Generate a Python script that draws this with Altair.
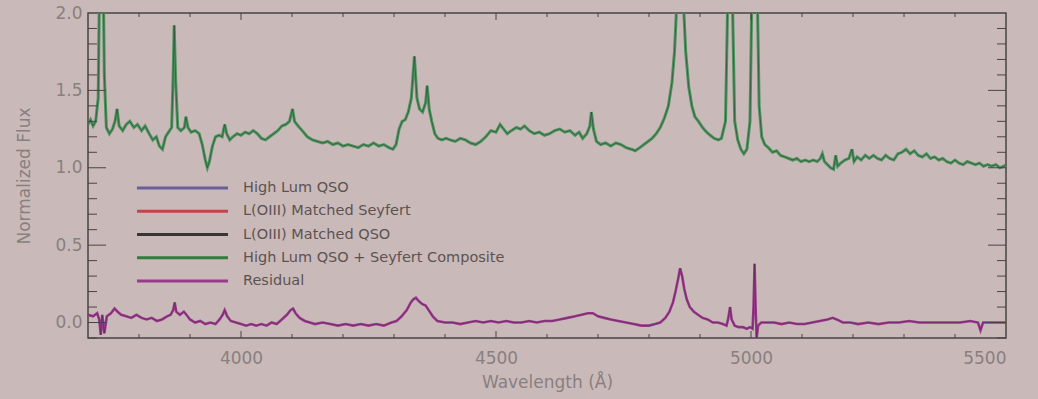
import altair as alt
import pandas as pd

# Composite spectrum (normalized flux) vs rest wavelength in Angstrom
comp_wave = [3700, 3705, 3710, 3715, 3720, 3724, 3728, 3732, 3736, 3742, 3748, 3753, 3757, 3761, 3768,
             3775, 3782, 3790, 3797, 3805, 3812, 3820, 3827, 3834, 3840, 3846, 3852, 3858, 3864, 3867,
             3869, 3872, 3876, 3882, 3889, 3892, 3896, 3902, 3910, 3918, 3924, 3930, 3934, 3938, 3944,
             3950, 3957, 3963, 3968, 3972, 3978, 3984, 3992, 4000, 4008, 4016, 4024, 4032, 4040, 4048,
             4056, 4064, 4072, 4080, 4088, 4095, 4101, 4105, 4112, 4120, 4130, 4140, 4150, 4160, 4170,
             4180, 4190, 4200, 4210, 4220, 4230, 4240, 4250, 4260, 4270, 4280, 4290, 4298, 4304, 4310,
             4316, 4322, 4328, 4334, 4340, 4345, 4350, 4356, 4362, 4365, 4369, 4374, 4380, 4386, 4394,
             4402, 4410, 4420, 4430, 4440, 4450, 4460, 4470, 4480, 4490, 4500, 4508, 4515, 4522, 4530,
             4540, 4548, 4556, 4565, 4575, 4585, 4595, 4605, 4615, 4625, 4635, 4645, 4655, 4663, 4670,
             4678, 4684, 4687, 4691, 4697, 4705, 4715, 4725, 4735, 4745, 4755, 4765, 4773, 4782, 4790,
             4798, 4806, 4814, 4822, 4830, 4838, 4845, 4850, 4855, 4861, 4867, 4872, 4878, 4884, 4890,
             4897, 4905, 4913, 4920, 4928, 4936, 4942, 4950, 4955, 4959, 4963, 4968, 4974, 4980, 4986,
             4992, 4998, 5003, 5007, 5011, 5016, 5021, 5027, 5034, 5042, 5050, 5058, 5066, 5074, 5082,
             5090, 5098, 5106, 5114, 5122, 5130, 5136, 5140, 5144, 5150, 5156, 5162, 5166, 5170, 5176,
             5184, 5192, 5198, 5202, 5208, 5216, 5224, 5232, 5240, 5248, 5256, 5264, 5272, 5280, 5288,
             5296, 5304, 5312, 5320, 5328, 5336, 5344, 5352, 5360, 5368, 5376, 5384, 5392, 5400, 5408,
             5416, 5424, 5432, 5440, 5448, 5456, 5464, 5472, 5480, 5488, 5496, 5500]
comp_flux = [1.28, 1.31, 1.27, 1.30, 1.45, 2.60, 2.80, 1.60, 1.26, 1.22, 1.25, 1.30, 1.38, 1.27, 1.24,
             1.28, 1.30, 1.26, 1.28, 1.24, 1.27, 1.22, 1.18, 1.20, 1.14, 1.12, 1.20, 1.23, 1.26, 1.60,
             1.92, 1.55, 1.26, 1.24, 1.26, 1.33, 1.26, 1.23, 1.24, 1.22, 1.15, 1.05, 1.00, 1.04, 1.14,
             1.20, 1.21, 1.20, 1.28, 1.22, 1.18, 1.20, 1.22, 1.21, 1.23, 1.22, 1.24, 1.22, 1.19, 1.18,
             1.20, 1.22, 1.24, 1.27, 1.28, 1.30, 1.38, 1.30, 1.27, 1.24, 1.20, 1.18, 1.17, 1.16, 1.17,
             1.15, 1.16, 1.14, 1.15, 1.14, 1.13, 1.15, 1.14, 1.16, 1.14, 1.15, 1.13, 1.12, 1.15, 1.25,
             1.30, 1.31, 1.36, 1.45, 1.72, 1.45, 1.38, 1.36, 1.42, 1.53, 1.38, 1.30, 1.22, 1.19, 1.18,
             1.19, 1.18, 1.17, 1.19, 1.18, 1.16, 1.15, 1.17, 1.20, 1.24, 1.23, 1.28, 1.25, 1.22, 1.24,
             1.26, 1.25, 1.27, 1.24, 1.22, 1.23, 1.21, 1.22, 1.24, 1.25, 1.23, 1.24, 1.21, 1.23, 1.19,
             1.22, 1.27, 1.36, 1.25, 1.17, 1.15, 1.16, 1.14, 1.16, 1.15, 1.13, 1.12, 1.11, 1.13, 1.15,
             1.17, 1.19, 1.22, 1.26, 1.32, 1.40, 1.55, 1.75, 2.10, 2.60, 2.10, 1.75, 1.52, 1.40, 1.33,
             1.30, 1.26, 1.23, 1.21, 1.19, 1.18, 1.19, 1.30, 2.20, 2.80, 2.20, 1.30, 1.18, 1.12, 1.09,
             1.12, 1.30, 2.40, 3.20, 2.40, 1.40, 1.20, 1.15, 1.13, 1.10, 1.11, 1.08, 1.07, 1.06, 1.05,
             1.06, 1.04, 1.05, 1.04, 1.05, 1.04, 1.06, 1.09, 1.04, 1.02, 1.00, 0.99, 1.08, 1.01, 1.03,
             1.05, 1.06, 1.12, 1.04, 1.07, 1.05, 1.08, 1.06, 1.08, 1.06, 1.05, 1.08, 1.06, 1.05, 1.09,
             1.10, 1.12, 1.09, 1.11, 1.08, 1.07, 1.09, 1.06, 1.07, 1.05, 1.06, 1.04, 1.03, 1.05, 1.03,
             1.02, 1.04, 1.03, 1.02, 1.03, 1.01, 1.02, 1.01, 1.02, 1.00, 1.01, 1.02]

# Residual after subtracting the composite
resid_wave = [3700, 3710, 3718, 3722, 3725, 3728, 3732, 3737, 3745, 3752, 3758, 3765, 3775, 3785, 3795,
              3805, 3815, 3825, 3835, 3845, 3855, 3862, 3867, 3870, 3873, 3880, 3888, 3893, 3900, 3910,
              3920, 3930, 3940, 3950, 3958, 3964, 3968, 3973, 3980, 3990, 4000, 4010, 4020, 4030, 4040,
              4050, 4060, 4070, 4080, 4090, 4097, 4102, 4107, 4115, 4125, 4135, 4145, 4160, 4175, 4190,
              4205, 4220, 4235, 4250, 4265, 4280, 4295, 4305, 4315, 4325, 4333, 4338, 4343, 4348, 4355,
              4362, 4368, 4376, 4385, 4400, 4415, 4430, 4445, 4460, 4475, 4490, 4505, 4520, 4535, 4550,
              4565, 4580, 4595, 4610, 4625, 4640, 4655, 4668, 4680, 4690, 4700, 4712, 4725, 4740, 4755,
              4770, 4785, 4800, 4812, 4822, 4832, 4840, 4847, 4852, 4857, 4861, 4865, 4869, 4874, 4880,
              4888, 4896, 4905, 4915, 4925, 4935, 4945, 4952, 4955, 4959, 4962, 4968, 4976, 4984, 4992,
              4998, 5003, 5005, 5007, 5009, 5011, 5014, 5020, 5030, 5045, 5060, 5075, 5090, 5105, 5120,
              5135, 5150, 5160, 5168, 5180, 5195, 5210, 5230, 5250, 5270, 5290, 5310, 5330, 5350, 5370,
              5390, 5410, 5430, 5445, 5450, 5455, 5470, 5485, 5500]
resid_flux = [0.05, 0.04, 0.06, 0.02, -0.08, 0.05, -0.07, 0.04, 0.06, 0.09, 0.07, 0.05, 0.04, 0.03, 0.05,
              0.03, 0.02, 0.03, 0.01, 0.02, 0.04, 0.05, 0.08, 0.13, 0.07, 0.05, 0.07, 0.05, 0.02, 0.00,
              0.01, -0.01, 0.00, -0.01, 0.02, 0.05, 0.08, 0.04, 0.01, 0.00, -0.01, -0.02, -0.01, -0.02, -0.01,
              -0.02, 0.00, -0.01, 0.02, 0.05, 0.08, 0.09, 0.06, 0.03, 0.01, 0.00, -0.01, 0.00, -0.01, -0.02,
              -0.01, -0.02, -0.01, -0.02, -0.01, -0.02, 0.00, 0.01, 0.04, 0.08, 0.13, 0.15, 0.16, 0.14, 0.12,
              0.11, 0.08, 0.04, 0.01, 0.00, 0.00, -0.01, 0.00, 0.01, 0.00, 0.01, 0.00, 0.01, 0.00, 0.00,
              0.01, 0.00, 0.01, 0.01, 0.02, 0.03, 0.04, 0.05, 0.06, 0.06, 0.04, 0.03, 0.02, 0.01, 0.00,
              -0.01, -0.02, -0.02, -0.01, 0.00, 0.03, 0.07, 0.13, 0.20, 0.28, 0.35, 0.30, 0.22, 0.15, 0.10,
              0.07, 0.05, 0.03, 0.02, 0.00, 0.00, -0.01, -0.02, 0.02, 0.10, 0.02, -0.02, -0.03, -0.03, -0.04,
              -0.03, -0.04, 0.10, 0.38, 0.10, -0.10, -0.02, 0.00, 0.00, 0.00, -0.01, 0.00, -0.01, -0.01, 0.00,
              0.01, 0.02, 0.03, 0.02, 0.00, 0.00, -0.01, 0.00, -0.01, 0.00, 0.00, 0.01, 0.00, 0.00, 0.00,
              0.00, 0.00, 0.01, 0.00, -0.05, 0.00, 0.00, 0.00, 0.00]

# Legend entries
legend_names = ["High Lum QSO", "L(OIII) Matched Seyfert", "L(OIII) Matched QSO",
                "High Lum QSO + Seyfert Composite", "Residual"]
legend_colors = ["#6a5f9c", "#c8424c", "#3a3434", "#2f7d3f", "#9a3a8c"]

# Axis tick values
x_labels = [4000, 4500, 5000, 5500]
x_major = [4000, 4500, 5000]
x_minor = [3800, 3900, 4100, 4200, 4300, 4400, 4600, 4700, 4800, 4900, 5100, 5200, 5300, 5400]
y_labels = [0.0, 0.5, 1.0, 1.5, 2.0]
y_major = [0.0, 0.5, 1.0, 1.5]
y_minor = [-0.1, 0.1, 0.2, 0.3, 0.4, 0.6, 0.7, 0.8, 0.9, 1.1, 1.2, 1.3, 1.4, 1.6, 1.7, 1.8, 1.9]

W, H = 918, 325
TXT = "#8a7f7f"
FONT = "DejaVu Sans"

comp = pd.DataFrame({"wave": comp_wave, "flux": comp_flux})
resid = pd.DataFrame({"wave": resid_wave, "flux": resid_flux})

xscale = alt.Scale(domain=[3700, 5500], nice=False, zero=False)
yscale = alt.Scale(domain=[-0.1, 2.0], nice=False, zero=False)

x_enc = alt.X("wave:Q", scale=xscale, axis=alt.Axis(
    values=x_labels, format="d", title="Wavelength (Å)", grid=False, domain=False, ticks=False,
    labelFontSize=17, labelColor=TXT, labelFont=FONT, labelPadding=12,
    titleFontSize=17, titleColor=TXT, titleFont=FONT, titleFontWeight="normal", titlePadding=8))
y_enc = alt.Y("flux:Q", scale=yscale, axis=alt.Axis(
    values=y_labels, format=".1f", title="Normalized Flux", grid=False, domain=False, ticks=False,
    labelFontSize=17, labelColor=TXT, labelFont=FONT, labelPadding=6,
    titleFontSize=17, titleColor=TXT, titleFont=FONT, titleFontWeight="normal", titlePadding=21))

green = alt.Chart(comp).mark_line(color="#4f9460", strokeWidth=3, clip=True).encode(x=x_enc, y=y_enc)
black = alt.Chart(comp).mark_line(color="#1e3524", strokeWidth=1, opacity=0.5, clip=True).encode(
    x=alt.X("wave:Q", scale=xscale), y=alt.Y("flux:Q", scale=yscale))
magenta = alt.Chart(resid).mark_line(color="#9c3a8e", strokeWidth=2.6, clip=True).encode(
    x=alt.X("wave:Q", scale=xscale), y=alt.Y("flux:Q", scale=yscale))
magenta_core = alt.Chart(resid).mark_line(color="#4a1f44", strokeWidth=0.9, opacity=0.5, clip=True).encode(
    x=alt.X("wave:Q", scale=xscale), y=alt.Y("flux:Q", scale=yscale))

TICK = "#4a4343"


def xticks(vals, length):
    df = pd.DataFrame({"v": vals})
    bottom = alt.Chart(df).mark_rule(color=TICK, strokeWidth=1).encode(
        x=alt.X("v:Q", scale=xscale), y=alt.value(H), y2=alt.value(H - length))
    top = alt.Chart(df).mark_rule(color=TICK, strokeWidth=1).encode(
        x=alt.X("v:Q", scale=xscale), y=alt.value(0), y2=alt.value(length))
    return bottom + top


def yticks(vals, length):
    df = pd.DataFrame({"v": vals})
    left = alt.Chart(df).mark_rule(color=TICK, strokeWidth=1).encode(
        y=alt.Y("v:Q", scale=yscale), x=alt.value(0), x2=alt.value(length))
    right = alt.Chart(df).mark_rule(color=TICK, strokeWidth=1).encode(
        y=alt.Y("v:Q", scale=yscale), x=alt.value(W), x2=alt.value(W - length))
    return left + right


ticks = xticks(x_major, 7) + xticks(x_minor, 4) + yticks(y_major, 18) + yticks(y_minor, 9)

leg = pd.DataFrame({"name": legend_names})
leg_y = alt.Y("name:N", scale=alt.Scale(type="point", domain=legend_names, range=[175, 268], padding=0), axis=None)
leg_color = alt.Color("name:N", scale=alt.Scale(domain=legend_names, range=legend_colors), legend=None)
legend_lines = alt.Chart(leg).mark_rule(strokeWidth=3).encode(
    y=leg_y, x=alt.value(49), x2=alt.value(140), color=leg_color)
legend_text = alt.Chart(leg).mark_text(align="left", baseline="middle", fontSize=14.5, font=FONT,
                                       color="#5c5252").encode(
    y=leg_y, x=alt.value(155), text="name:N")

plot = (green + black + magenta + magenta_core + ticks)
legend = legend_lines + legend_text

chart = alt.layer(plot, legend).resolve_scale(y="independent", color="independent").properties(
    width=W, height=H, background="#c9bab9",
    padding={"left": 88, "top": 13, "right": 32, "bottom": 61},
    autosize=alt.AutoSizeParams(type="none"),
).configure_view(stroke="#4a4444", strokeWidth=1.5)

chart.save("out.html", embed_options={"renderer": "svg", "actions": False})
